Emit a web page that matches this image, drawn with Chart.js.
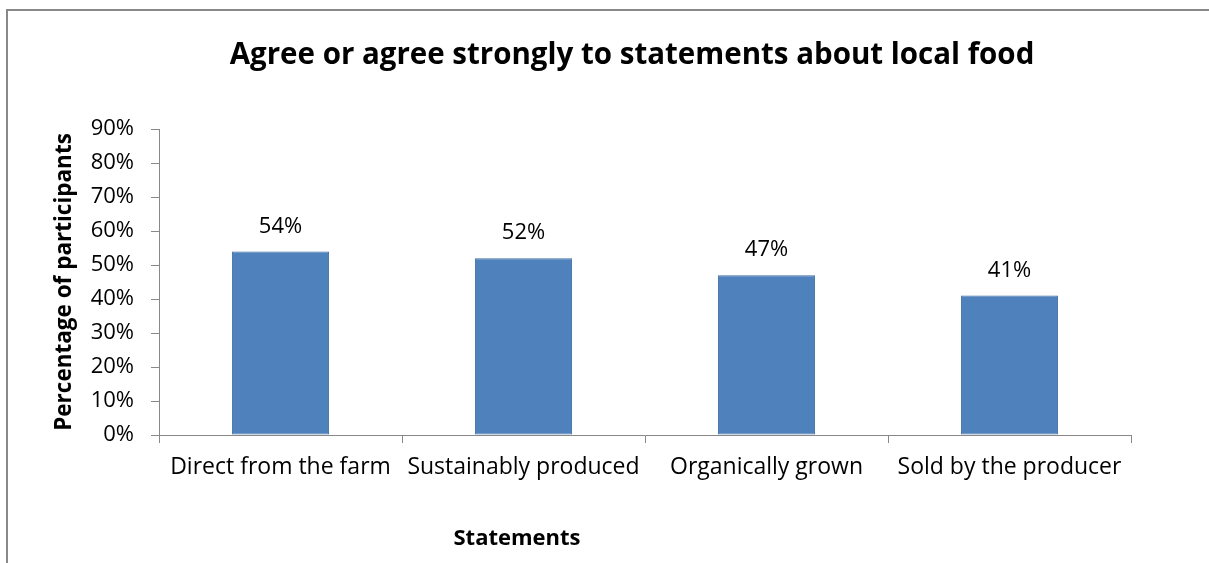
<!DOCTYPE html>
<html>
<head>
<meta charset="utf-8">
<script src="https://cdn.jsdelivr.net/npm/chart.js@4/dist/chart.umd.min.js"></script>
<style>
  html, body { margin: 0; padding: 0; background: #ffffff; }
  canvas { display: block; }
</style>
</head>
<body>
<canvas id="c" width="1209" height="563"></canvas>
<script>
const categories = ["Direct from the farm", "Sustainably produced", "Organically grown", "Sold by the producer"];
const values = [54, 52, 47, 41];
const yTicks = [0, 10, 20, 30, 40, 50, 60, 70, 80, 90];
const chartTitle = "Agree or agree strongly to statements about local food";
const yTitle = "Percentage of participants";
const xTitle = "Statements";

const FONT = "'Open Sans', Lato, sans-serif";

const frame = {
  id: 'frame',
  beforeDraw(chart) {
    const ctx = chart.ctx;
    ctx.save();
    ctx.fillStyle = '#ffffff';
    ctx.fillRect(0, 0, chart.width, chart.height);
    ctx.strokeStyle = '#888888';
    ctx.lineWidth = 2;
    ctx.strokeRect(7, 10, chart.width + 20, chart.height + 20);
    ctx.restore();
  }
};

const barLabels = {
  id: 'barLabels',
  afterDatasetsDraw(chart) {
    const ctx = chart.ctx;
    const meta = chart.getDatasetMeta(0);
    ctx.save();
    ctx.font = "22px " + FONT;
    ctx.fillStyle = '#000000';
    ctx.textAlign = 'center';
    ctx.textBaseline = 'middle';
    meta.data.forEach((bar, i) => {
      ctx.fillText(values[i] + '%', bar.x, bar.y - 25);
    });
    ctx.restore();
  }
};

const titles = {
  id: 'titles',
  afterDraw(chart) {
    const ctx = chart.ctx;
    ctx.save();
    ctx.fillStyle = '#000000';
    ctx.textAlign = 'center';
    ctx.textBaseline = 'middle';
    ctx.font = "bold 29.5px " + FONT;
    ctx.fillText(chartTitle, 632, 56);
    ctx.font = "bold 22px " + FONT;
    ctx.fillText(xTitle, 517, 539);
    ctx.restore();
  }
};

new Chart(document.getElementById('c'), {
  type: 'bar',
  data: {
    labels: categories,
    datasets: [{
      data: values,
      backgroundColor: '#4F81BD',
      borderColor: '#3F6C9F',
      borderWidth: 1,
      borderSkipped: false,
      barPercentage: 0.4,
      categoryPercentage: 1.0
    }]
  },
  options: {
    responsive: false,
    animation: false,
    devicePixelRatio: 1,
    layout: { padding: { top: 129, right: 78, bottom: 0, left: 0 } },
    plugins: {
      legend: { display: false },
      tooltip: { enabled: false },
      title: { display: false }
    },
    scales: {
      x: {
        grid: {
          display: true,
          offset: true,
          drawOnChartArea: false,
          drawTicks: true,
          tickLength: 8,
          color: '#888888'
        },
        border: { display: true, color: '#888888', width: 1 },
        ticks: {
          color: '#000000',
          font: { family: FONT, size: 23 },
          padding: 11,
          maxRotation: 0,
          autoSkip: false
        },
        afterFit(scale) { scale.height = 128; }
      },
      y: {
        min: 0,
        max: 90,
        afterBuildTicks(scale) { scale.ticks = yTicks.map(v => ({ value: v })); },
        grid: {
          display: true,
          drawOnChartArea: false,
          drawTicks: true,
          tickLength: 8,
          color: '#888888'
        },
        border: { display: true, color: '#888888', width: 1 },
        ticks: {
          color: '#000000',
          font: { family: FONT, size: 22 },
          padding: 17,
          callback: (v) => v + '%'
        },
        title: {
          display: true,
          text: yTitle,
          color: '#000000',
          font: { family: FONT, size: 22.5, weight: 'bold' },
          padding: { top: 51, bottom: 0 }
        },
        afterFit(scale) { scale.width = 159; }
      }
    }
  },
  plugins: [frame, barLabels, titles]
});
</script>
</body>
</html>
